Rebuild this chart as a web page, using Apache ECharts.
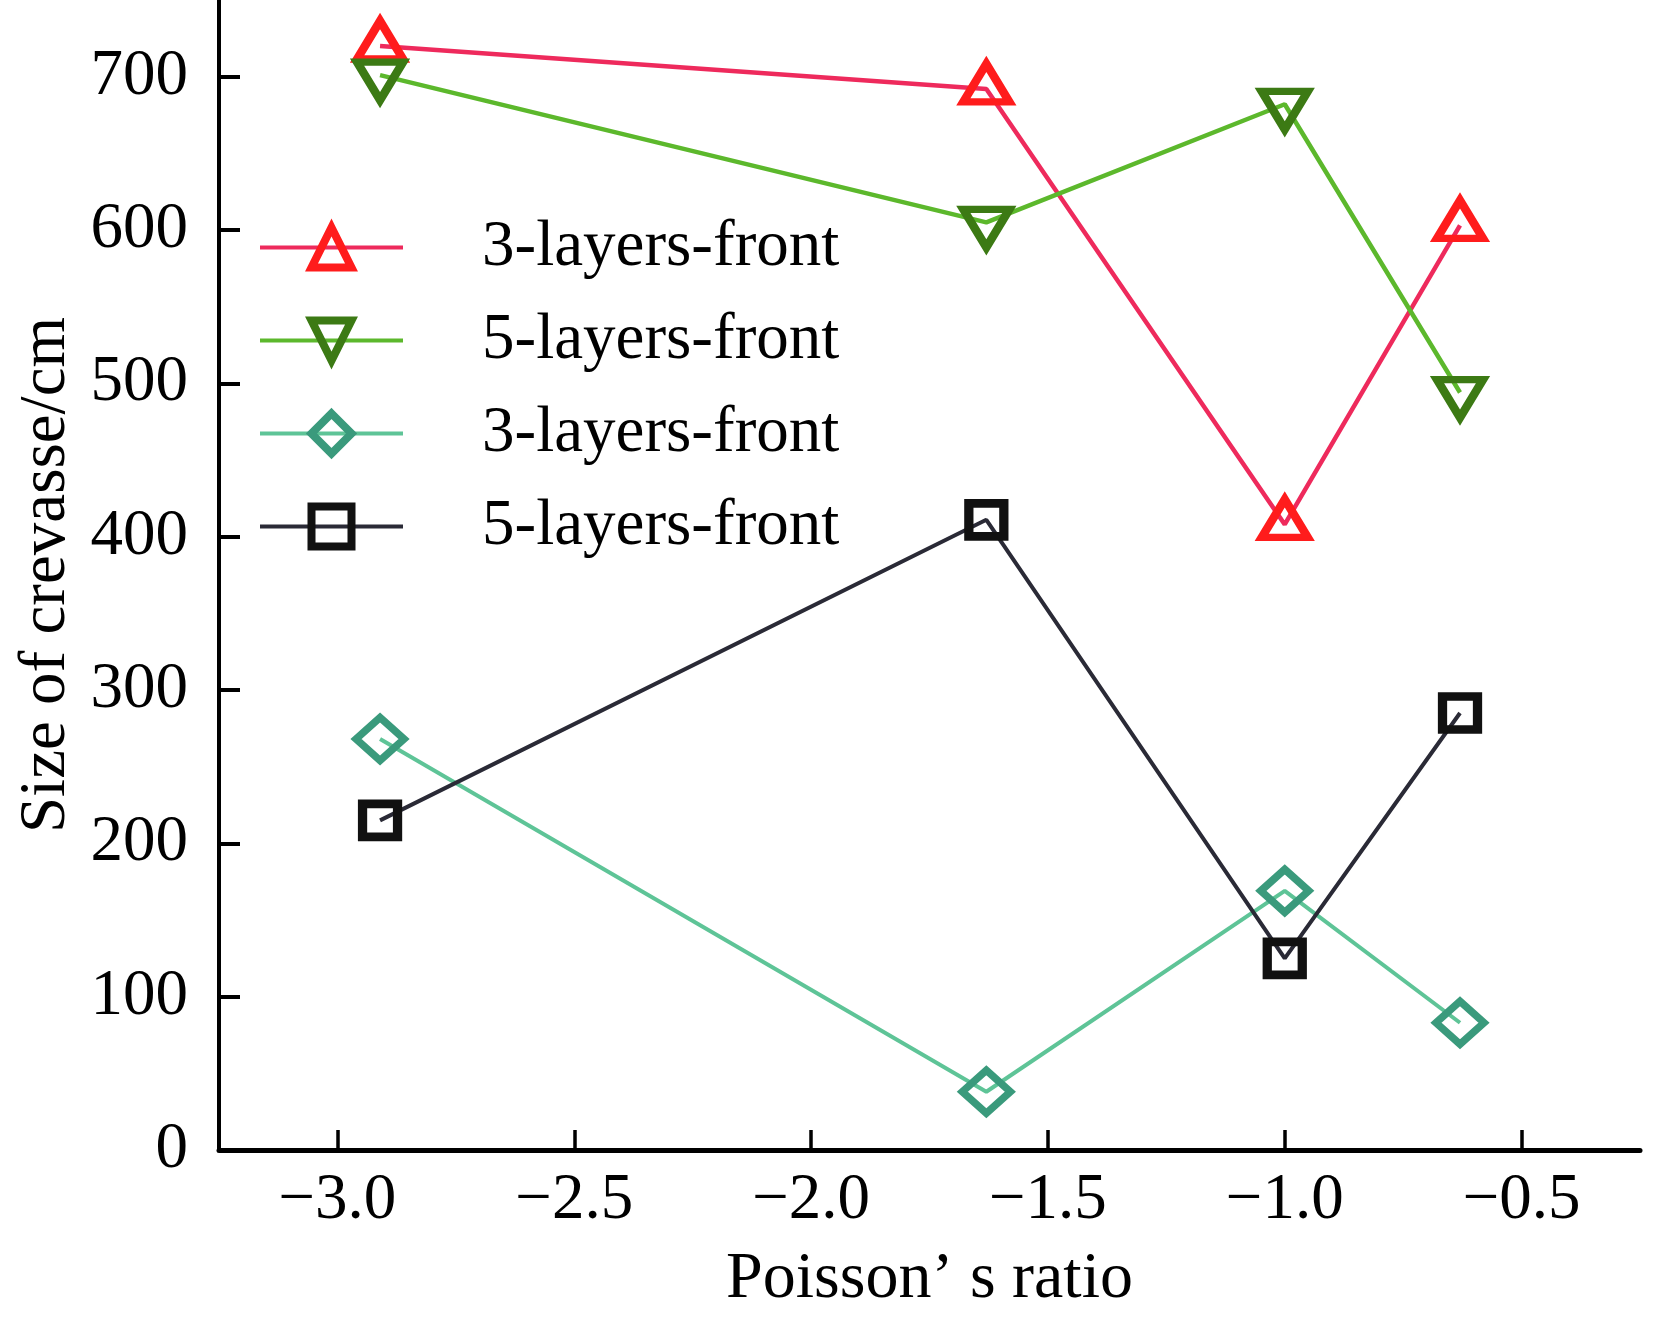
<!DOCTYPE html>
<html>
<head>
<meta charset="utf-8">
<script src="https://cdn.jsdelivr.net/npm/echarts@6/dist/echarts.min.js"></script>
<style>
html,body{margin:0;padding:0;background:#fff;}
#chart{width:1654px;height:1322px;}
</style>
</head>
<body>
<div id="chart"></div>
<script>
// ---- data ----
const poissonRatio = [-2.91, -1.63, -1.0, -0.63];
const series3LayersA = [720, 692, 408, 603];   // red, triangle up
const series5LayersA = [701, 605, 682, 494];   // green, triangle down
const series3LayersB = [268, 38, 169, 83];     // teal, diamond
const series5LayersB = [215, 411, 125, 285];   // black, square
const legendLabels = ['3-layers-front', '5-layers-front', '3-layers-front', '5-layers-front'];
const xTickValues = [-3.0, -2.5, -2.0, -1.5, -1.0, -0.5];
const yTickValues = [0, 100, 200, 300, 400, 500, 600, 700];
const xTitle = 'Poisson\u2019 s ratio';
const yTitle = 'Size of crevasse/cm';

const FONT = '"Liberation Serif", "Times New Roman", serif';
const ids = ['s1', 's2', 's3', 's4'];
const labelOf = {};
ids.forEach((id, i) => { labelOf[id] = legendLabels[i]; });

function pairs(ys) { return poissonRatio.map((x, i) => [x, ys[i]]); }

function mkSeries(id, ys, lineColor, markColor, symbol, size, rotate, offset, bw, lw) {
  return {
    name: id,
    type: 'line',
    data: pairs(ys),
    symbol: symbol,
    symbolSize: size,
    symbolRotate: rotate,
    symbolOffset: offset,
    symbolKeepAspect: false,
    clip: false,
    lineStyle: { color: lineColor, width: lw },
    itemStyle: { color: 'rgba(255,255,255,0)', borderColor: markColor, borderWidth: bw },
    emphasis: { disabled: true },
    animation: false
  };
}

const chart = echarts.init(document.getElementById('chart'));
chart.setOption({
  backgroundColor: '#ffffff',
  animation: false,
  grid: { left: 219, right: 14, top: 0, bottom: 172, containLabel: false },
  legend: {
    orient: 'vertical',
    left: 253,
    top: 210,
    itemWidth: 143,
    itemHeight: 50,
    itemGap: 28,
    data: ids,
    formatter: name => labelOf[name],
    itemStyle: { borderWidth: 8 },
    lineStyle: { width: 4 },
    textStyle: { fontFamily: FONT, fontSize: 65, color: '#000', padding: [0, 0, 0, 74] },
    selectedMode: false
  },
  xAxis: {
    type: 'value',
    min: -3.25,
    max: -0.25,
    name: xTitle,
    nameLocation: 'middle',
    nameGap: 97,
    nameTextStyle: { fontFamily: FONT, fontSize: 66, color: '#000' },
    axisLine: { show: true, onZero: false, lineStyle: { color: '#000', width: 5 } },
    axisTick: { show: true, inside: true, length: 20, customValues: xTickValues, lineStyle: { color: '#000', width: 3.5 } },
    axisLabel: {
      customValues: xTickValues,
      margin: 18,
      fontFamily: FONT, fontSize: 65, color: '#000',
      formatter: v => (v < 0 ? '\u2212' : '') + Math.abs(v).toFixed(1)
    },
    splitLine: { show: false }
  },
  yAxis: {
    type: 'value',
    min: 0,
    max: 750,
    name: yTitle,
    nameLocation: 'middle',
    nameGap: 135,
    nameTextStyle: { fontFamily: FONT, fontSize: 65, color: '#000' },
    axisLine: { show: true, onZero: false, lineStyle: { color: '#000', width: 4 } },
    axisTick: { show: true, inside: true, length: 21, customValues: yTickValues, lineStyle: { color: '#000', width: 4 } },
    axisLabel: {
      customValues: yTickValues,
      margin: 31,
      fontFamily: FONT, fontSize: 65, color: '#000'
    },
    splitLine: { show: false }
  },
  series: [
    mkSeries('s1', series3LayersA, '#EE2A5C', '#FF1C1C', 'triangle', [46, 38], 0, [0, -6], 8, 4.5),
    mkSeries('s2', series5LayersA, '#5CB82C', '#3C7A14', 'triangle', [46, 38], 180, [0, 6], 8, 4.5),
    mkSeries('s3', series3LayersB, '#5EC497', '#3A9A7C', 'diamond', [48, 43], 0, [0, 0], 7.5, 4),
    mkSeries('s4', series5LayersB, '#2A2A36', '#111111', 'rect', [35, 33], 0, [0, 0], 9, 4)
  ]
});
</script>
</body>
</html>
